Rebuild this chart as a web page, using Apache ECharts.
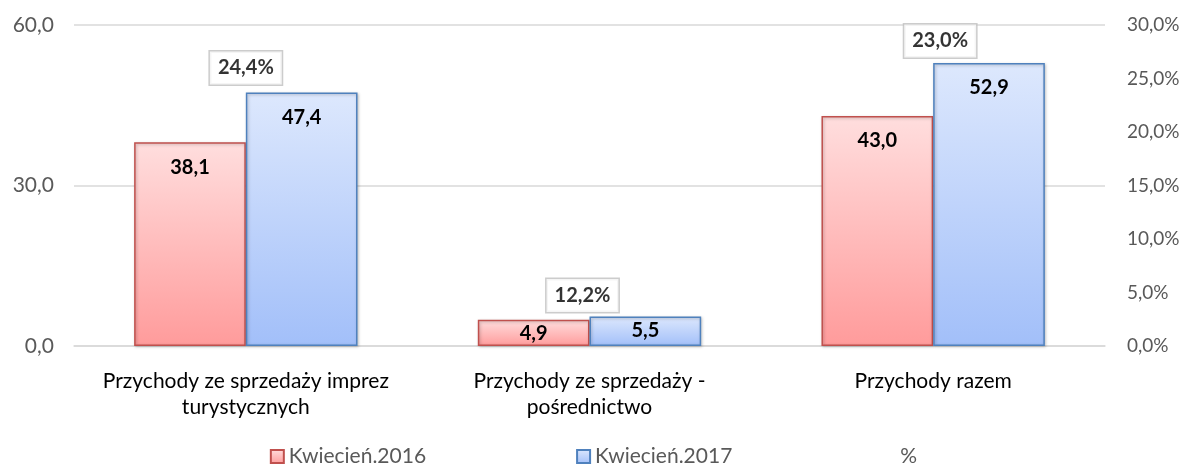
<!DOCTYPE html>
<html>
<head>
<meta charset="utf-8">
<script src="https://cdn.jsdelivr.net/npm/echarts@6/dist/echarts.min.js"></script>
<style>
  html, body { margin: 0; padding: 0; background: #fff; }
  #chart { width: 1187px; height: 466px; }
</style>
</head>
<body>
<div id="chart"></div>
<script>
// dane
const categories = ['Przychody ze sprzedaży imprez\nturystycznych', 'Przychody ze sprzedaży -\npośrednictwo', 'Przychody razem'];
const values2016 = [38.1, 4.9, 43.0];
const values2017 = [47.4, 5.5, 52.9];
const changePct = [24.4, 12.2, 23.0];
const leftTicks = { min: 0, max: 60, interval: 30 };
const rightTicks = { min: 0, max: 30, interval: 5 };

const FONT = 'Lato, "Open Sans", sans-serif';
const fmt = (v, d) => v.toFixed(d).replace('.', ',');

// przesunięcia dymków z procentami
const calloutOffsets = [[0, -17], [-7, 80], [7, -59]];

document.addEventListener('DOMContentLoaded', function() {
    const chart = echarts.init(document.getElementById('chart'));

    const barLabel = {
        show: true,
        position: 'insideTop',
        distance: 15,
        color: '#000',
        fontWeight: 'bold',
        fontSize: 20,
        fontFamily: FONT,
        formatter: p => fmt(p.value, 1)
    };

    // niskie słupki - etykieta bliżej krawędzi
    const barData = vals => vals.map(v => ({
        value: v,
        label: { distance: v < 10 ? 4 : 15 }
    }));

    const option = {
        animation: false,
        textStyle: { fontFamily: FONT },
        grid: { left: 74, right: 82, top: 25, bottom: 120, outerBoundsMode: 'none' },
        legend: {
            top: 441,
            left: 'center',
            itemGap: 150,
            itemWidth: 13,
            itemHeight: 13,
            textStyle: { color: '#595959', fontSize: 21, fontFamily: FONT },
            data: [
                { name: 'Kwiecień.2016', icon: 'rect' },
                { name: 'Kwiecień.2017', icon: 'rect' },
                { name: '%', icon: 'none' }
            ]
        },
        xAxis: {
            type: 'category',
            data: categories,
            axisLine: { lineStyle: { color: '#d9d9d9', width: 1.5 } },
            axisTick: { show: false },
            axisLabel: { interval: 0, color: '#000', fontSize: 21, lineHeight: 26, margin: 22, fontFamily: FONT }
        },
        yAxis: [{
            type: 'value',
            min: leftTicks.min, max: leftTicks.max, interval: leftTicks.interval,
            axisLine: { show: false },
            axisTick: { show: false },
            splitLine: { lineStyle: { color: '#d9d9d9', width: 1.5 } },
            axisLabel: { color: '#595959', fontSize: 21, margin: 20, fontFamily: FONT, formatter: v => fmt(v, 1) }
        }, {
            type: 'value',
            min: rightTicks.min, max: rightTicks.max, interval: rightTicks.interval,
            axisLine: { show: false },
            axisTick: { show: false },
            splitLine: { show: false },
            axisLabel: { color: '#595959', fontSize: 19, margin: 22, fontFamily: FONT, formatter: v => fmt(v, 1) + '%' }
        }],
        series: [{
            name: 'Kwiecień.2016',
            type: 'bar',
            data: barData(values2016),
            barGap: '0%',
            barCategoryGap: '35%',
            itemStyle: {
                color: new echarts.graphic.LinearGradient(0, 0, 0, 1, [
                    { offset: 0, color: '#ffdede' },
                    { offset: 1, color: '#ff9b9b' }
                ]),
                borderColor: '#c0504d',
                borderWidth: 1.5,
                shadowColor: 'rgba(0,0,0,0.25)',
                shadowBlur: 3,
                shadowOffsetX: 1,
                shadowOffsetY: 1
            },
            label: barLabel
        }, {
            name: 'Kwiecień.2017',
            type: 'bar',
            data: barData(values2017),
            itemStyle: {
                color: new echarts.graphic.LinearGradient(0, 0, 0, 1, [
                    { offset: 0, color: '#dde8fd' },
                    { offset: 1, color: '#a2bff9' }
                ]),
                borderColor: '#4f81bd',
                borderWidth: 1.5,
                shadowColor: 'rgba(0,0,0,0.25)',
                shadowBlur: 3,
                shadowOffsetX: 1,
                shadowOffsetY: 1
            },
            label: barLabel
        }, {
            name: '%',
            type: 'scatter',
            yAxisIndex: 1,
            symbolSize: 1,
            itemStyle: { color: 'rgba(0,0,0,0)' },
            data: changePct.map((v, i) => ({
                value: v,
                label: { offset: calloutOffsets[i] }
            })),
            label: {
                show: true,
                position: 'inside',
                color: '#000',
                fontWeight: 'bold',
                fontSize: 20,
                fontFamily: FONT,
                backgroundColor: '#fff',
                borderColor: '#bfbfbf',
                borderWidth: 1.5,
                padding: [7, 8, 6, 8],
                formatter: p => fmt(p.value, 1) + '%'
            },
            z: 10
        }]
    };

    chart.setOption(option);
});
</script>
</body>
</html>
